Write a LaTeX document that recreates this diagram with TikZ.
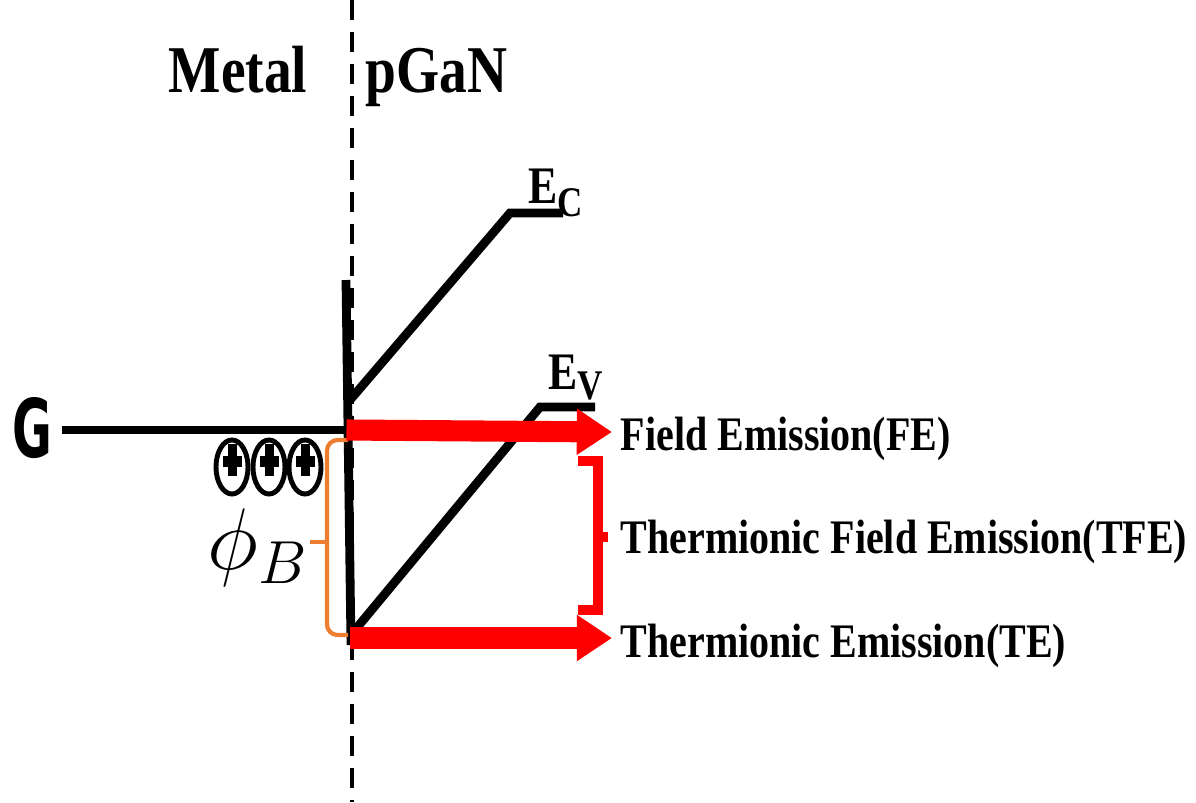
\documentclass[tikz,border=0pt]{standalone}
\usepackage{fontspec}
\usepackage{graphicx}
\setmainfont{Liberation Serif}
\newfontfamily\gatefont{DejaVu Sans}
\usetikzlibrary{arrows.meta}
\newcommand{\narrowtext}[1]{\scalebox{0.83}[1]{#1}}
\definecolor{emred}{RGB}{255,0,0}
\definecolor{braceorange}{RGB}{237,125,49}

\begin{document}
\begin{tikzpicture}[x=0.01cm, y=-0.01cm,
    band/.style={line width=2.5pt, black, line join=miter},
    emission/.style={line width=6pt, emred, -{Triangle[length=10pt, width=12.5pt]}},
    title/.style={font=\fontsize{19}{22}\selectfont\bfseries, inner sep=0pt, anchor=base west},
    proc/.style={font=\fontsize{13.7}{16}\selectfont\bfseries, inner sep=0pt, anchor=base west},
    level/.style={font=\fontsize{15}{18}\selectfont\bfseries, inner sep=0pt, anchor=base west}]
  \useasboundingbox (0,0) rectangle (1196,802);
  % interface between metal and p-GaN
  \draw[line width=1.4pt, dash pattern=on 5.7pt off 3.4pt] (352,0) -- (352,802);
  \node[title] (metal) at (168,92) {\narrowtext{Metal}};
  \node[title] (pgan) at (365,92) {\narrowtext{pGaN}};
  % band edges
  \coordinate (top) at (346,280);
  \coordinate (bot) at (351,645);
  \coordinate (ecz) at (350,400);
  \coordinate (evz) at (350,636);
  \coordinate (fermi) at (350,430);
  \draw[band] (top) -- (bot);
  \draw[band] (ecz) -- (510,213) -- (563,213);
  \draw[band] (evz) -- (540,407) -- (595,407);
  \node[level] (ec) at (528,203) {\narrowtext{E\raisebox{-3.7pt}{\fontsize{12}{14}\selectfont C}}};
  \node[level] (ev) at (548,389) {\narrowtext{E\raisebox{-3pt}{\fontsize{12}{14}\selectfont V}}};
  % gate metal level
  \node[font=\gatefont\bfseries\fontsize{23}{26}\selectfont, inner sep=0pt] (gate) at (32,428) {\scalebox{0.6}[1]{G}};
  \draw[band] (62,430) -- (fermi);
  % trapped positive charges
  \foreach \cx [count=\i] in {232,269,305} {
    \draw[line width=1.4pt] (\cx,467) ellipse [x radius=0.16cm, y radius=0.27cm];
    \fill (\cx-9.5,456) rectangle (\cx+9.5,467);
    \fill (\cx-4.5,444) rectangle (\cx+4.5,476);
  }
  % barrier height
  \draw[braceorange, line width=1.2pt, rounded corners=3pt]
    (348,440) -- (327,440) -- (327,635) -- (348,635);
  \draw[braceorange, line width=1.2pt] (327,542) -- (310,542);
  \node[font=\fontsize{23}{27}\selectfont, inner sep=0pt] (phib) at (258,548) {$\phi_B$};
  % emission paths
  \coordinate (fe) at (612,432);
  \coordinate (te) at (612,638);
  \draw[emission] ([xshift=-1pt]fermi) -- (fe);
  \draw[emission] (evz) ++(0,2) -- (te);
  \draw[emred, line width=2.6pt, line join=miter] (578,461) -- (598,461) -- (598,610) -- (578,610);
  \draw[emred, line width=2.6pt] (598,537) -- (608,537);
  \node[proc] (felab) at (620,450) {\narrowtext{Field Emission(FE)}};
  \node[proc] (tfelab) at (620,553) {\narrowtext{Thermionic Field Emission(TFE)}};
  \node[proc] (telab) at (620,657) {\narrowtext{Thermionic Emission(TE)}};
\end{tikzpicture}
\end{document}
